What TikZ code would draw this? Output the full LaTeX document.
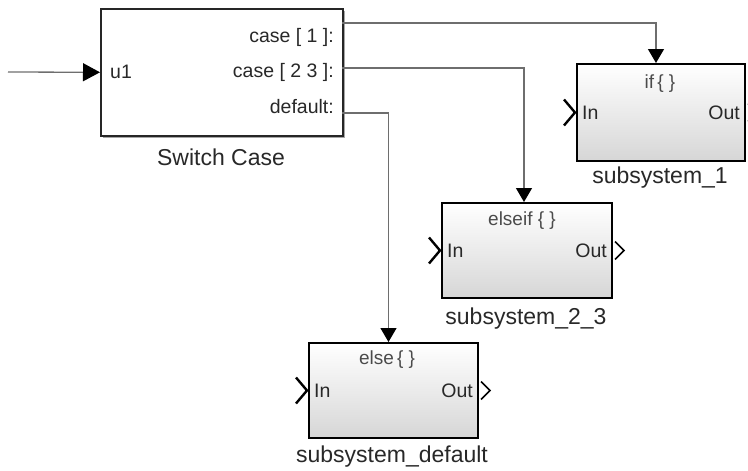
\documentclass[tikz,border=0pt]{standalone}
\usepackage{fontspec}
\setmainfont{Liberation Sans}
\usetikzlibrary{arrows.meta}
\definecolor{wire}{RGB}{110,110,110}
\definecolor{txt}{RGB}{40,40,40}
\definecolor{soft}{RGB}{75,75,75}
\tikzset{
  subsys/.style={draw=black, line width=2pt, minimum width=169pt, minimum height=96pt,
    inner sep=0pt, top color=white, bottom color=black!16, anchor=north west},
  swbox/.style={draw=black!85, line width=1.6pt, fill=white, minimum width=242pt,
    minimum height=127pt, inner sep=0pt, anchor=north west},
  lbl/.style={font=\fontsize{23}{26}\selectfont, text=txt, inner sep=0pt},
  port/.style={font=\fontsize{19.5}{22}\selectfont, text=txt, inner sep=0pt},
  cond/.style={font=\fontsize{19}{22}\selectfont, text=soft, inner sep=0pt},
  wireline/.style={draw=wire, line width=1.3pt},
  tip/.style={-{Triangle[length=14pt,width=16pt,color=black,fill=black]}},
  chev/.style={draw=black, line width=2.4pt, line join=miter},
  ochev/.style={draw=black, line width=1.6pt, line join=miter}
}
\begin{document}
\begin{tikzpicture}[x=1pt,y=-1pt]
\useasboundingbox (0,0) rectangle (748,471);
\clip (0,0) rectangle (748,471);
% Switch Case block with shadow
\fill[black!35] (103,11) rectangle (345,138);
\node[swbox] (sw) at (100,8) {};
\node[lbl] (swl) at (221,157) {Switch Case};
\node[port, anchor=west] (u1) at (110,72) {u1};
\node[port, anchor=east] (c1) at (334,37) {case [ 1 ]:};
\node[port, anchor=east] (c2) at (334,72) {case [ 2 3 ]:};
\node[port, anchor=east] (c3) at (334,107) {default:};
\coordinate (p1) at (342,23);
\coordinate (p2) at (342,68);
\coordinate (p3) at (342,113);
\coordinate (src) at (8,72);

% subsystems
\node[subsys, minimum width=168pt, minimum height=97pt] (s1) at (576,63) {};
\node[subsys, minimum width=170pt, minimum height=95pt] (s2) at (441,202) {};
\node[subsys, minimum width=169pt, minimum height=95pt] (sd) at (308,342) {};

\node[cond] (s1c) at (660,84) {if\,\{\ \}};
\node[cond] (s2c) at (522,221) {elseif\ \{\ \}};
\node[cond] (sdc) at (387,360) {else\,\{\ \}};

\node[port, anchor=west] (s1i) at ([xshift=6pt]s1.west) {In};
\node[port, anchor=east] (s1o) at ([xshift=-6pt]s1.east) {Out};
\node[port, anchor=west] (s2i) at ([xshift=6pt]s2.west) {In};
\node[port, anchor=east] (s2o) at ([xshift=-6pt]s2.east) {Out};
\node[port, anchor=west] (sdi) at ([xshift=6pt]sd.west) {In};
\node[port, anchor=east] (sdo) at ([xshift=-6pt]sd.east) {Out};

\node[lbl] (s1l) at (660,178) {subsystem\_1};
\node[lbl] (s2l) at (526,319) {subsystem\_2\_3};
\node[lbl] (sdl) at (392,457) {subsystem\_default};

% wires
\draw[wireline, -{Triangle[length=17pt,width=18pt,color=black,fill=black]}] (src) -- (sw.west);
\draw[wireline, tip] (p1) -| ([xshift=-5pt]s1.north);
\draw[wireline, tip] (p2) -| ([xshift=-3pt]s2.north);
\draw[wireline, tip] (p3) -| ([xshift=-5pt]sd.north);

% port chevrons
\foreach \b in {s1,s2,sd}{
  \draw[chev] ([xshift=-12pt,yshift=13pt]\b.west) -- ([xshift=-1pt]\b.west) -- ([xshift=-12pt,yshift=-13pt]\b.west);
  \draw[ochev] ([xshift=2pt,yshift=9pt]\b.east) -- ([xshift=11pt]\b.east) -- ([xshift=2pt,yshift=-9pt]\b.east);
}
\end{tikzpicture}
\end{document}
